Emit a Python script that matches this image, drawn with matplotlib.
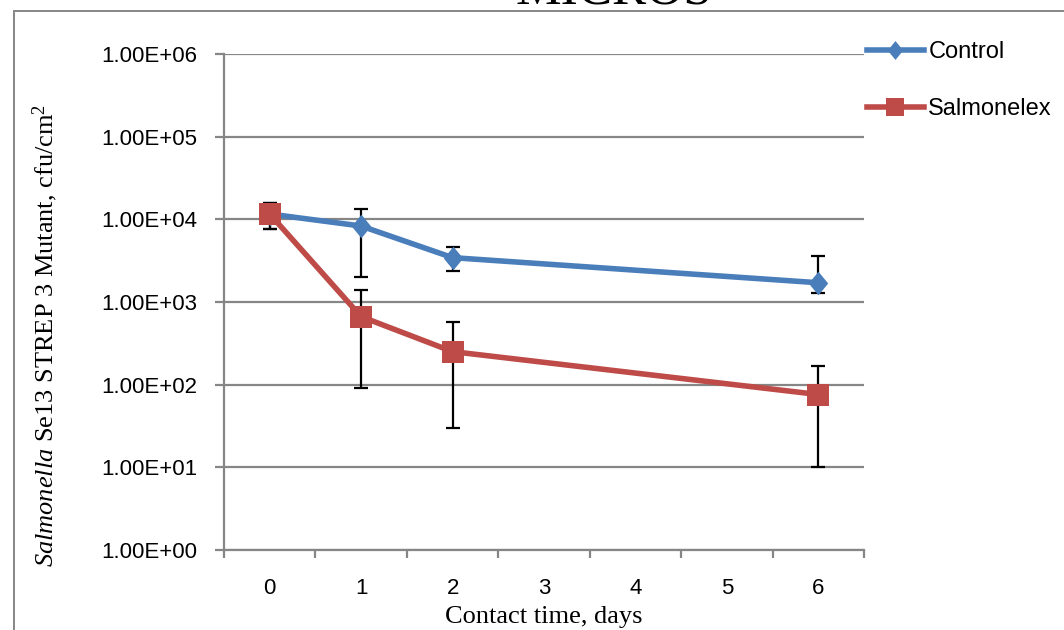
import numpy as np
import matplotlib
matplotlib.use("Agg")
import matplotlib.pyplot as plt
from matplotlib.patches import Rectangle

# data (cfu/cm2)
days = [0, 1, 2, 6]
control = [11600, 8300, 3440, 1710]
control_lo = [7640, 2000, 2390, 1300]
control_hi = [15800, 13200, 4670, 3600]
salmonelex = [11600, 665, 251, 76]
salm_lo = [7640, 90, 30, 10]
salm_hi = [15800, 1400, 570, 168]
categories = ["0", "1", "2", "3", "4", "5", "6"]
ytick_vals = [1e0, 1e1, 1e2, 1e3, 1e4, 1e5, 1e6]
ytick_labels = ["1.00E+00", "1.00E+01", "1.00E+02", "1.00E+03",
                "1.00E+04", "1.00E+05", "1.00E+06"]

blue = "#4A7EBB"
red = "#BE4B48"
gray = "#868686"
sans = "Liberation Sans"
serif = "Liberation Serif"

plt.rcParams["mathtext.fontset"] = "custom"
plt.rcParams["mathtext.it"] = "Liberation Serif:italic"
plt.rcParams["mathtext.rm"] = "Liberation Serif"

fig = plt.figure(figsize=(10.64, 6.30), dpi=100)
W, H = 1064, 630
ax = fig.add_axes([224 / W, 1 - 550 / H, 640 / W, 496 / H])

# chart-area border (only the top and left edges show in the crop)
fig.patches.append(Rectangle((14 / W, -0.5), 2.0, 1.5 - 10.5 / H,
                             transform=fig.transFigure, fill=False,
                             edgecolor=gray, lw=1.4, zorder=0))

# error bars first, so markers sit over them
def errs(vals, lo, hi):
    v = np.array(vals, float)
    return [v - np.array(lo), np.array(hi) - v]

ax.errorbar(days, control, yerr=errs(control, control_lo, control_hi), fmt="none",
            ecolor="black", elinewidth=1.6, capsize=5, capthick=1.6, zorder=3)
ax.errorbar(days, salmonelex, yerr=errs(salmonelex, salm_lo, salm_hi), fmt="none",
            ecolor="black", elinewidth=1.6, capsize=5, capthick=1.6, zorder=3)

diamond = [(0, 1), (0.82, 0), (0, -1), (-0.82, 0), (0, 1)]
ax.plot(days, control, color=blue, lw=4, marker=diamond, ms=17,
        mew=0, label="Control", zorder=4)
ax.plot(days, salmonelex, color=red, lw=4, marker="s", ms=15.5,
        mew=0, label="Salmonelex", zorder=5)

ax.set_yscale("log")
ax.set_ylim(1, 1e6)
ax.set_xlim(-0.5, 6.5)

ax.set_yticks(ytick_vals)
ax.set_yticklabels(ytick_labels, fontsize=16, family=sans)
ax.yaxis.set_minor_locator(matplotlib.ticker.NullLocator())
ax.tick_params(axis="y", which="major", length=6.5, width=1.6, color=gray,
               direction="out", pad=13)

ax.set_xticks(range(len(categories)))
ax.set_xticklabels(categories, fontsize=16, family=sans)
ax.set_xticks(np.arange(-0.5, 7, 1), minor=True)
ax.tick_params(axis="x", which="major", length=0, pad=20)
ax.tick_params(axis="x", which="minor", length=6, width=1.6, color=gray,
               direction="out")

ax.grid(axis="y", color=gray, lw=1.6, zorder=0)
ax.set_axisbelow(True)
for s in ["top", "right"]:
    ax.spines[s].set_visible(False)
for s in ["left", "bottom"]:
    ax.spines[s].set_color(gray)
    ax.spines[s].set_linewidth(1.6)

ax.set_xlabel("Contact time, days", fontsize=19, family=serif, labelpad=5)
# y title sits a little below the axis middle, as in the source
fig.text(45 / W, 1 - 335 / H,
         r"$\mathit{Salmonella}$ Se13 STREP 3 Mutant, cfu/cm$^2$",
         fontsize=19, family=serif, rotation=90, ha="center", va="center")

# title of the slide, cropped at the top edge
fig.text(614 / W, 1 - 4 / H, "MICROS", fontsize=37, family=serif,
         ha="center", va="baseline")

ax.legend(loc="upper left", bbox_to_anchor=(867 / W, 1 - 41 / H),
          bbox_transform=fig.transFigure, frameon=False,
          prop={"family": sans, "size": 17}, handlelength=2.4,
          handletextpad=0.2, labelspacing=1.5, borderpad=0,
          borderaxespad=0, markerscale=0.8)

fig.savefig("out.png", dpi=100)
